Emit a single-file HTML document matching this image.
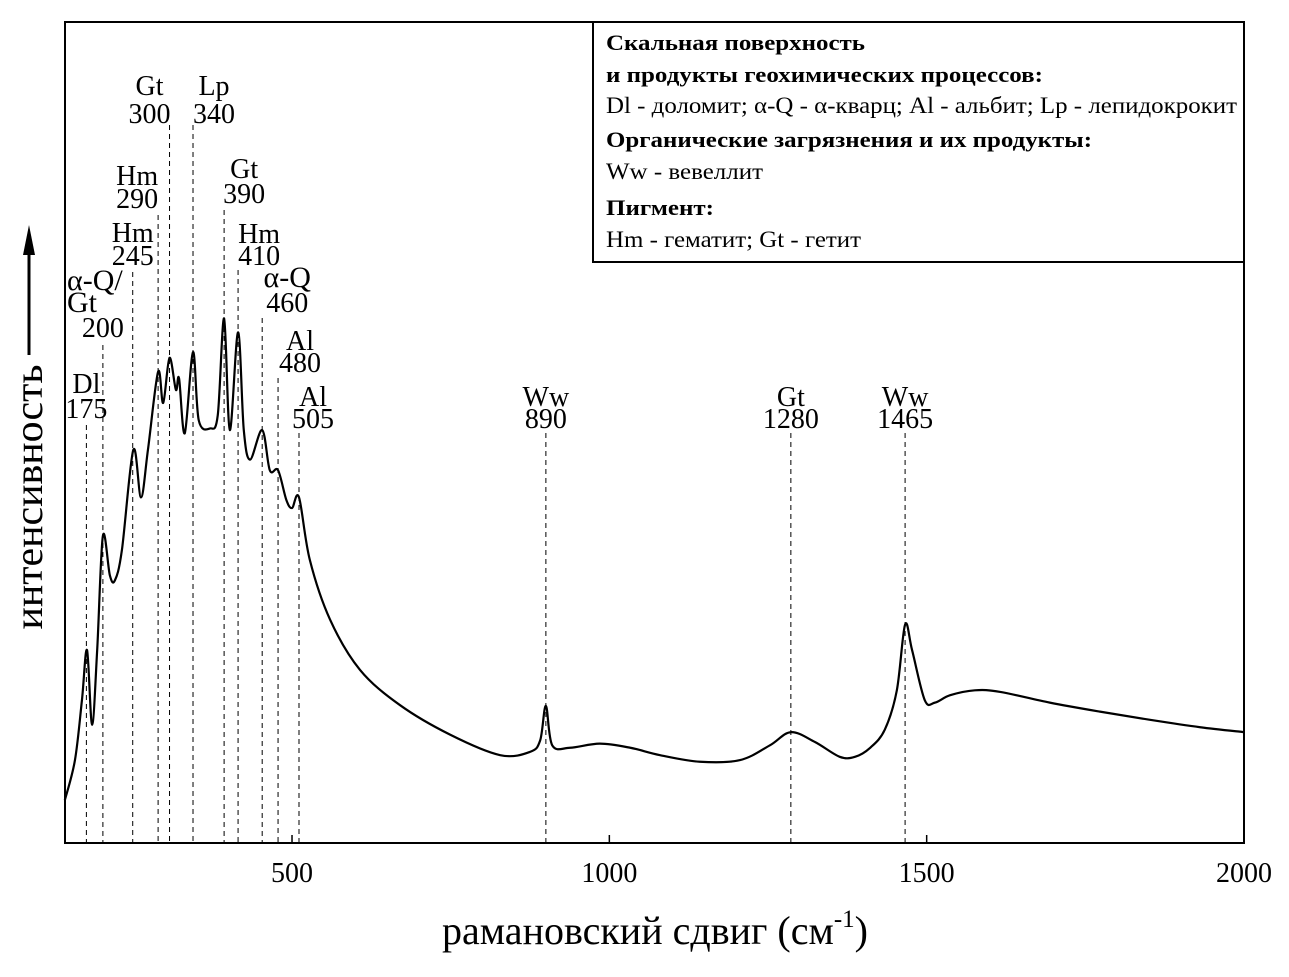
<!DOCTYPE html>
<html><head><meta charset="utf-8"><style>
body{margin:0;background:#fff;}
svg text{font-family:"Liberation Serif","DejaVu Serif",serif;fill:#000;}
</style></head><body>
<svg id="chart" width="1289" height="972" xmlns="http://www.w3.org/2000/svg">
<rect x="65" y="22" width="1179" height="821" fill="none" stroke="#000" stroke-width="2"/>
<g id="ticks"></g>
<g id="marks"></g>
<path id="curve" fill="none" stroke="#000" stroke-width="2.2"/>
<g>
<rect x="593" y="22" width="651" height="240" fill="#fff" stroke="#000" stroke-width="2"/>
<text x="606" y="50" font-size="22" font-weight="bold" textLength="259" lengthAdjust="spacingAndGlyphs">Скальная поверхность</text>
<text x="606" y="82" font-size="22" font-weight="bold" textLength="437" lengthAdjust="spacingAndGlyphs">и продукты геохимических процессов:</text>
<text x="606" y="113" font-size="23" textLength="631" lengthAdjust="spacingAndGlyphs">Dl - доломит; α-Q - α-кварц; Al - альбит; Lp - лепидокрокит</text>
<text x="606" y="147" font-size="22" font-weight="bold" textLength="486" lengthAdjust="spacingAndGlyphs">Органические загрязнения и их продукты:</text>
<text x="606" y="179" font-size="23" textLength="157" lengthAdjust="spacingAndGlyphs">Ww - вевеллит</text>
<text x="606" y="215" font-size="22" font-weight="bold" textLength="108" lengthAdjust="spacingAndGlyphs">Пигмент:</text>
<text x="606" y="247" font-size="23" textLength="255" lengthAdjust="spacingAndGlyphs">Hm - гематит; Gt - гетит</text>
</g>
<text x="655" y="944" font-size="40" text-anchor="middle">рамановский сдвиг (см<tspan font-size="25" dy="-17">-1</tspan><tspan dy="17">)</tspan></text>
<g>
<text x="0" y="0" font-size="40" text-anchor="middle" transform="translate(42,497) rotate(-90)" textLength="265" lengthAdjust="spacingAndGlyphs">интенсивность</text>
<line x1="29" y1="355" x2="29" y2="250" stroke="#000" stroke-width="3"/>
<polygon points="29,225 23,255 35,255" fill="#000"/>
</g>
</svg>
<script>
const wn=[142,158,169,177,185,193,202,213,221,232,250,262,273,289,297,307,317,322,331,344,353,371,383,393,402,415,424,434,453,465,478,491,500,511,528,560,607,670,749,828,875,891,900,910,938,985,1033,1080,1143,1206,1253,1286,1324,1363,1387,1411,1434,1453,1466,1477,1497,1513,1537,1576,1616,1694,1773,1852,1931,2000];
const inten=[5.2,10.1,17.4,23.5,14.4,23.5,37.4,32.6,32.0,35.7,47.9,42.1,47.9,57.4,53.6,59.1,55.2,56.6,49.9,59.8,51.5,50.5,52.1,63.9,50.3,62.2,50.3,46.7,50.3,45.4,45.4,41.8,40.8,42.1,34.5,27.2,21.1,16.8,13.2,10.7,11.1,12.5,16.7,11.9,11.6,12.1,11.6,10.7,9.9,10.1,11.9,13.5,12.3,10.5,10.5,11.6,13.8,18.6,26.6,23.5,17.4,17.1,18.0,18.6,18.4,17.1,16.0,15.0,14.1,13.5];
const xTicks=[500,1000,1500,2000];
const peakPos=[176,202,249,289,307,344,393,415,453,478,511,900,1286,1466];
const peakName=["Dl","α-Q/ Gt","Hm","Hm","Gt","Lp","Gt","Hm","α-Q","Al","Al","Ww","Gt","Ww"];
const peakNum=["175","200","245","290","300","340","390","410","460","480","505","890","1280","1465"];
const X0=142.3,X1=2000,PL=65,PR=1244,PT=22,PB=843;
const sx=v=>PL+(v-X0)/(X1-X0)*(PR-PL);
const sy=v=>PB-v/100*(PB-PT);
const NS="http://www.w3.org/2000/svg";
const pts=wn.map((w,i)=>[sx(w),sy(inten[i])]);
let d="M"+pts[0][0]+","+pts[0][1];
for(let i=0;i<pts.length-1;i++){
 const p0=pts[Math.max(0,i-1)],p1=pts[i],p2=pts[i+1],p3=pts[Math.min(pts.length-1,i+2)];
 const c1=[p1[0]+(p2[0]-p0[0])/6,p1[1]+(p2[1]-p0[1])/6];
 const c2=[p2[0]-(p3[0]-p1[0])/6,p2[1]-(p3[1]-p1[1])/6];
 d+=` C${c1[0]},${c1[1]} ${c2[0]},${c2[1]} ${p2[0]},${p2[1]}`;
}
document.getElementById('curve').setAttribute('d',d);
const tg=document.getElementById('ticks');
xTicks.forEach(t=>{
 const l=document.createElementNS(NS,'line');
 
 
 l.setAttribute('x1',sx(t));l.setAttribute('x2',sx(t));l.setAttribute('y1',PB);l.setAttribute('y2',PB-8);l.setAttribute('stroke','#000');l.setAttribute('stroke-width','1.5');
 tg.appendChild(l);
 const tx=document.createElementNS(NS,'text');
 
 
 tx.setAttribute('x',sx(t));tx.setAttribute('y',882);tx.setAttribute('font-size','28');tx.setAttribute('text-anchor','middle');
 tx.textContent=t;tg.appendChild(tx);
});
const lay=[[393,418,0,425],[312,337,0,345],[242,265,0,272],[185,208,-21,215],[95,123,-20,125],[95,123,21,125],[178,203,20,210],[243,265,21,270],[287,312,25,318],[350,372,22,378],[406,428,14,433],[406,428,0,433],[406,428,0,433],[406,428,0,433]];
const mg=document.getElementById('marks');
peakPos.forEach((p,i)=>{
 const x=sx(p),L=lay[i];
 const l=document.createElementNS(NS,'line');
 
 
 l.setAttribute('x1',x);l.setAttribute('x2',x);l.setAttribute('y1',L[3]);l.setAttribute('y2',PB);
 l.setAttribute('stroke','#000');l.setAttribute('stroke-width','1');l.setAttribute('stroke-dasharray','5,4');
 mg.appendChild(l);
 const mk=(txt,y,xx,anchor,fs)=>{const t=document.createElementNS(NS,'text');
  
  
  t.setAttribute('x',xx);t.setAttribute('y',y);t.setAttribute('font-size',fs||'28');t.setAttribute('text-anchor',anchor);t.textContent=txt;mg.appendChild(t);};
 if(i===1){mk("α-Q/",290,67,'start','30');mk("Gt",312,67,'start','30');mk(peakNum[i],337,x,'middle');}
 else if(i===8){mk(peakName[i],L[0],x+L[2],'middle','30');mk(peakNum[i],L[1],x+L[2],'middle');}
 else{mk(peakName[i],L[0],x+L[2],'middle');mk(peakNum[i],L[1],x+L[2],'middle');}
});
</script>
</body></html>
